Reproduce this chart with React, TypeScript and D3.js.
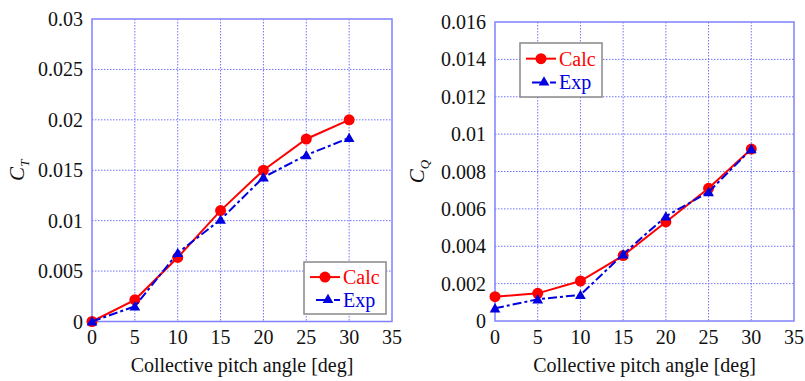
import React, { useEffect, useRef } from "react";
import * as d3 from "d3";

const pitch = [0, 5, 10, 15, 20, 25, 30];
const ctCalc = [0, 0.00215, 0.00635, 0.011, 0.015, 0.0181, 0.02];
const ctExp = [0, 0.0015, 0.0068, 0.0101, 0.0143, 0.0165, 0.0182];
const cqCalc = [0.0013, 0.00148, 0.00214, 0.0035, 0.0053, 0.0071, 0.0092];
const cqExp = [0.00068, 0.00116, 0.0014, 0.00357, 0.0056, 0.0069, 0.0092];

const xTicks = [0, 5, 10, 15, 20, 25, 30, 35];
const ctTicks = ["0", "0.005", "0.01", "0.015", "0.02", "0.025", "0.03"];
const cqTicks = ["0", "0.002", "0.004", "0.006", "0.008", "0.01", "0.012", "0.014", "0.016"];
const seriesNames = ["Calc", "Exp"];

const RED = "#ff0000";
const BLUE = "#0000e0";
const GRID = "#7070ff";
const FONT = "'Liberation Serif', 'DejaVu Serif', serif";

interface Panel {
  left: number;
  right: number;
  top: number;
  bottom: number;
  ticks: string[];
  calc: number[];
  exp: number[];
  sub: string;
  labelX: number;
  legend: { x: number; y: number; w: number; h: number };
}

const panels: Panel[] = [
  {
    left: 92, right: 392, top: 19, bottom: 321.5,
    ticks: ctTicks, calc: ctCalc, exp: ctExp, sub: "T", labelX: 24,
    legend: { x: 304, y: 262, w: 82, h: 52 },
  },
  {
    left: 495, right: 794, top: 22, bottom: 321,
    ticks: cqTicks, calc: cqCalc, exp: cqExp, sub: "Q", labelX: 424,
    legend: { x: 520, y: 43, w: 82, h: 54 },
  },
];

const txt = (sel: any, size: number) =>
  sel.style("font-family", FONT).style("font-size", `${size}px`);

const App: React.FC = () => {
  const svgRef = useRef<SVGSVGElement | null>(null);

  useEffect(() => {
    if (!svgRef.current) return;
    const svg = d3.select(svgRef.current);
    svg.selectAll("*").remove();

    const tri = d3.symbol().type(d3.symbolTriangle).size(50);

    panels.forEach((p) => {
      const yVals = p.ticks.map((t) => +t);
      const x = d3.scaleLinear().domain([0, 35]).range([p.left, p.right]);
      const y = d3
        .scaleLinear()
        .domain([0, yVals[yVals.length - 1]])
        .range([p.bottom, p.top]);

      const g = svg.append("g");

      // grid
      g.selectAll(".vgrid")
        .data(xTicks.slice(1, -1))
        .enter()
        .append("line")
        .attr("x1", (d) => x(d))
        .attr("x2", (d) => x(d))
        .attr("y1", p.top)
        .attr("y2", p.bottom)
        .attr("stroke", GRID)
        .attr("stroke-width", 1)
        .attr("stroke-dasharray", "1.5,1.5");
      g.selectAll(".hgrid")
        .data(yVals.slice(1, -1))
        .enter()
        .append("line")
        .attr("x1", p.left)
        .attr("x2", p.right)
        .attr("y1", (d) => y(d))
        .attr("y2", (d) => y(d))
        .attr("stroke", GRID)
        .attr("stroke-width", 1)
        .attr("stroke-dasharray", "1.5,1.5");

      g.append("rect")
        .attr("x", p.left)
        .attr("y", p.top)
        .attr("width", p.right - p.left)
        .attr("height", p.bottom - p.top)
        .attr("fill", "none")
        .attr("stroke", "#8080ff")
        .attr("stroke-width", 1.5);

      // tick labels
      txt(
        g.selectAll(".xt")
          .data(xTicks)
          .enter()
          .append("text")
          .attr("x", (d) => x(d))
          .attr("y", 344)
          .attr("text-anchor", "middle"),
        20
      )
        .attr("fill", "#111")
        .text((d: number) => String(d));
      txt(
        g.selectAll(".yt")
          .data(p.ticks)
          .enter()
          .append("text")
          .attr("x", p.left - 9)
          .attr("y", (d) => y(+d))
          .attr("dy", "0.35em")
          .attr("text-anchor", "end"),
        20
      )
        .attr("fill", "#111")
        .text((d: string) => d);

      txt(
        g.append("text")
          .attr("x", (p.left + p.right) / 2)
          .attr("y", 372)
          .attr("text-anchor", "middle"),
        20
      )
        .attr("fill", "#111")
        .text("Collective pitch angle [deg]");

      const lab = txt(
        g.append("text")
          .attr("transform", `translate(${p.labelX},${(p.top + p.bottom) / 2}) rotate(-90)`)
          .attr("text-anchor", "middle")
          .style("font-style", "italic"),
        21
      ).attr("fill", "#111");
      lab.append("tspan").text("C");
      lab.append("tspan").attr("dy", 5).style("font-size", "13px").text(p.sub);

      // series
      const pts = (vals: number[]) => pitch.map((d, i) => [x(d), y(vals[i])] as [number, number]);
      const line = d3.line();

      g.append("path")
        .attr("d", line(pts(p.calc)))
        .attr("fill", "none")
        .attr("stroke", RED)
        .attr("stroke-width", 2);
      g.selectAll(".calcpt")
        .data(pts(p.calc))
        .enter()
        .append("circle")
        .attr("cx", (d) => d[0])
        .attr("cy", (d) => d[1])
        .attr("r", 5.5)
        .attr("fill", RED);

      g.append("path")
        .attr("d", line(pts(p.exp)))
        .attr("fill", "none")
        .attr("stroke", BLUE)
        .attr("stroke-width", 2)
        .attr("stroke-dasharray", "9,3,3,3");
      g.selectAll(".exppt")
        .data(pts(p.exp))
        .enter()
        .append("path")
        .attr("d", tri)
        .attr("transform", (d) => `translate(${d[0]},${d[1] + 1})`)
        .attr("fill", BLUE);

      // legend
      const L = p.legend;
      const lg = g.append("g").attr("transform", `translate(${L.x},${L.y})`);
      lg.append("rect")
        .attr("width", L.w)
        .attr("height", L.h)
        .attr("fill", "#fff")
        .attr("stroke", "#888")
        .attr("stroke-width", 1.5);
      seriesNames.forEach((name, i) => {
        const cy = L.h * (i === 0 ? 0.29 : 0.73);
        const col = i === 0 ? RED : BLUE;
        lg.append("line")
          .attr("x1", i === 0 ? 6 : 12)
          .attr("x2", 36)
          .attr("y1", cy)
          .attr("y2", cy)
          .attr("stroke", col)
          .attr("stroke-width", 2)
          .attr("stroke-dasharray", i === 0 ? null : "9,3,3,3");
        if (i === 0) {
          lg.append("circle").attr("cx", 21).attr("cy", cy).attr("r", 5.5).attr("fill", col);
        } else {
          lg.append("path").attr("d", tri).attr("transform", `translate(24,${cy})`).attr("fill", col);
        }
        txt(
          lg.append("text")
            .attr("x", 39)
            .attr("y", cy)
            .attr("dy", "0.35em"),
          20
        )
          .attr("fill", col)
          .text(name);
      });
    });
  }, []);

  return (
    <svg
      ref={svgRef}
      width={805}
      height={381}
      style={{ position: "absolute", left: 0, top: 0, background: "#fff" }}
    />
  );
};

export default App;
